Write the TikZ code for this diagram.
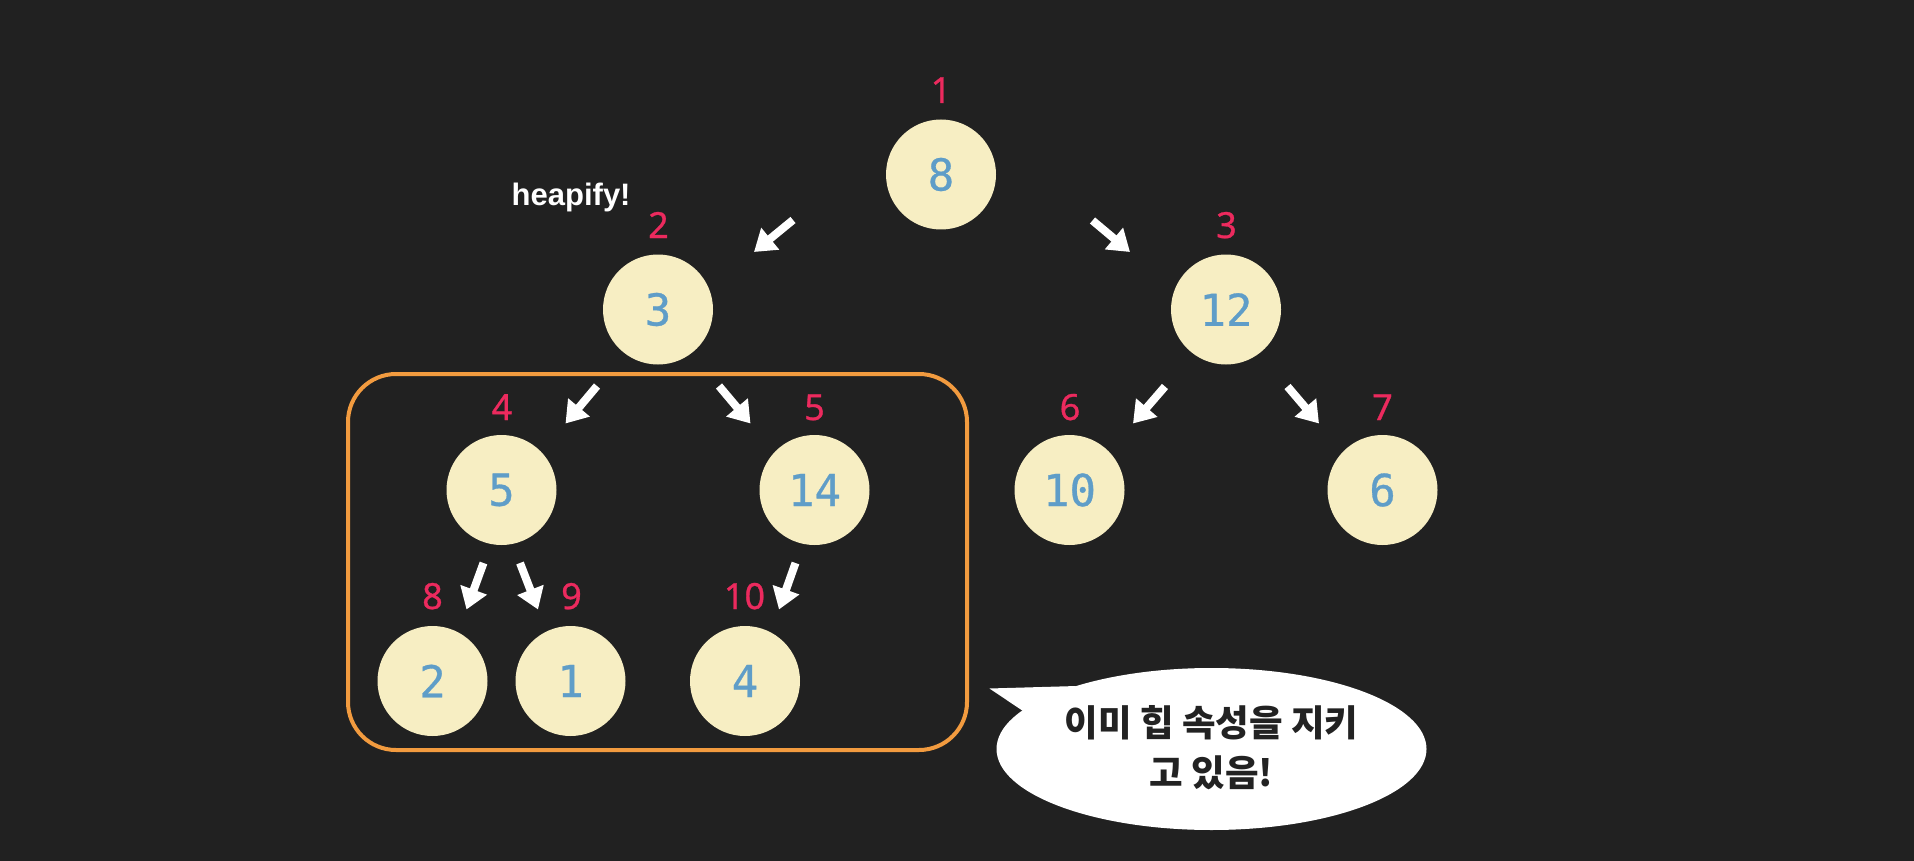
\documentclass[tikz,border=0pt]{standalone}
\usepackage{fontspec}
\usetikzlibrary{arrows.meta}
\newfontfamily\monof[FakeBold=0.7]{DejaVu Sans Mono}
\newfontfamily\labf[FakeBold=0.8]{Noto Sans}
\newfontfamily\heapf{Liberation Sans}
\newfontfamily\krf{Noto Sans CJK KR}
\definecolor{bgc}{HTML}{212121}
\definecolor{nodefill}{HTML}{F7EEC3}
\definecolor{digitc}{HTML}{5F9DC8}
\definecolor{idxc}{HTML}{EC2A5E}
\definecolor{boxc}{HTML}{F29B3F}
\definecolor{krc}{HTML}{222222}
\tikzset{
  heapnode/.style={circle, fill=nodefill, minimum size=110pt, inner sep=0pt,
    text=digitc, font=\monof\fontsize{44}{44}\selectfont},
  idxlabel/.style={anchor=base, inner sep=0pt, text=idxc,
    font=\labf\fontsize{36}{36}\selectfont},
  downarrow/.style={draw=white, line width=8pt,
    -{Triangle[width=27pt,length=21pt]}}
}
\begin{document}
\begin{tikzpicture}[x=1pt,y=-1pt]
\fill[bgc] (0,0) rectangle (1914,861);
\useasboundingbox (0,0) rectangle (1914,861);

% subtree box
\draw[boxc, line width=4pt, rounded corners=48pt] (348,374) rectangle (967,750);

% nodes
\node[heapnode] (n1) at (941,174.5) {8};
\node[heapnode] (n2) at (658,309.5) {3};
\node[heapnode] (n3) at (1226,309.5) {12};
\node[heapnode] (n4) at (501.5,490) {5};
\node[heapnode] (n5) at (814.5,490) {14};
\node[heapnode] (n6) at (1069.5,490) {10};
\node[heapnode] (n7) at (1382.5,490) {6};
\node[heapnode] (n8) at (432.5,681) {2};
\node[heapnode] (n9) at (570.5,681) {1};
\node[heapnode] (n10) at (745,681) {4};

% index labels
\node[idxlabel] (i1) at (941,103) {1};
\node[idxlabel] (i2) at (658.5,238) {2};
\node[idxlabel] (i3) at (1226.5,238) {3};
\node[idxlabel] (i4) at (502,420) {4};
\node[idxlabel] (i5) at (814.5,420) {5};
\node[idxlabel] (i6) at (1070,420) {6};
\node[idxlabel] (i7) at (1382.5,420) {7};
\node[idxlabel] (i8) at (432.5,609) {8};
\node[idxlabel] (i9) at (571.5,609) {9};
\node[idxlabel] (i10) at (744.5,609) {10};

% heapify text
\node[anchor=base west, inner sep=0pt, text=white,
  font=\heapf\bfseries\fontsize{31}{31}\selectfont] (hp) at (511.5,206) {heapify!};

% arrow endpoints
\coordinate (a1s) at (793,220);   \coordinate (a1e) at (754,252);
\coordinate (a2s) at (1092.5,220.5); \coordinate (a2e) at (1130,252);
\coordinate (a3s) at (597,386);   \coordinate (a3e) at (565.5,423.5);
\coordinate (a4s) at (719,386);   \coordinate (a4e) at (750.5,423.5);
\coordinate (a5s) at (1165,386.5); \coordinate (a5e) at (1133,423.5);
\coordinate (a6s) at (1287.5,386.5); \coordinate (a6e) at (1319,423.5);
\coordinate (a7s) at (483.5,563); \coordinate (a7e) at (466.5,609.5);
\coordinate (a8s) at (520,563);   \coordinate (a8e) at (538,609.5);
\coordinate (a9s) at (795.5,563); \coordinate (a9e) at (779,609.5);

\draw[downarrow] (a1s) -- (a1e);
\draw[downarrow] (a2s) -- (a2e);
\draw[downarrow] (a3s) -- (a3e);
\draw[downarrow] (a4s) -- (a4e);
\draw[downarrow] (a5s) -- (a5e);
\draw[downarrow] (a6s) -- (a6e);
\draw[downarrow] (a7s) -- (a7e);
\draw[downarrow] (a8s) -- (a8e);
\draw[downarrow] (a9s) -- (a9e);

% speech bubble
\fill[white] (1211.5,749) ellipse [x radius=215pt, y radius=81pt];
\fill[white] (989.5,688.5) -- (1077,686) -- (1023,711) -- cycle;
\node[align=center, inner sep=0pt, text=krc,
  font=\krf\bfseries\fontsize{36.5}{50}\selectfont] (bubble) at (1211.5,748)
  {이미 힙 속성을 지키\\고 있음!};
\end{tikzpicture}
\end{document}
